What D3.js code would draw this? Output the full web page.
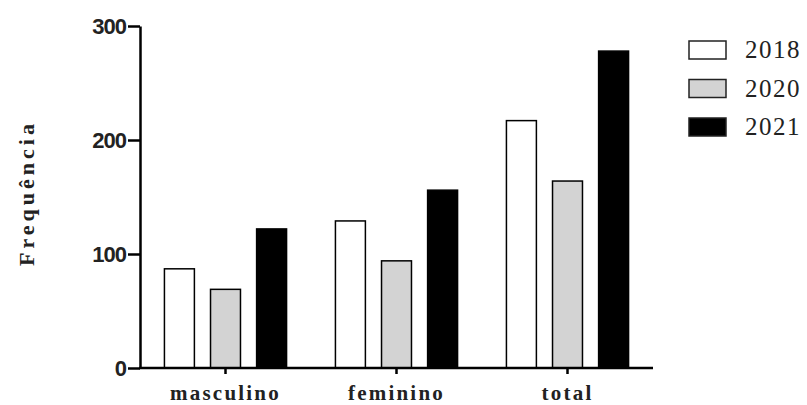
<!DOCTYPE html>
<html>
<head>
<meta charset="utf-8">
<script src="https://cdn.jsdelivr.net/npm/d3@7"></script>
<style>
  body { margin: 0; background: #fff; }
</style>
</head>
<body>
<div id="chart"></div>
<script>
// Grouped bar chart: frequencia por sexo e ano

const categories = ["masculino", "feminino", "total"];
const years = ["2018", "2020", "2021"];
const values2018 = [87, 129, 217];
const values2020 = [69, 94, 164];
const values2021 = [122, 156, 278];
const yTicks = [0, 100, 200, 300];

const seriesValues = [values2018, values2020, values2021];
const fills = ["#ffffff", "#d3d3d3", "#000000"];

let width = 807,
    height = 405,
    plotLeft = 140,
    plotRight = 653,
    plotTop = 26,
    plotBottom = 368;

let svg = d3.select("#chart").append("svg")
    .attr("width", width)
    .attr("height", height);

// Scales
// ---------------------------------------------------------

let x0 = d3.scaleBand()
    .domain(categories)
    .range([plotLeft, plotRight])
    .paddingInner(0)
    .paddingOuter(0);

let x1 = d3.scaleBand()
    .domain(years)
    .range([0, x0.bandwidth()])
    .paddingInner(0.35)
    .paddingOuter(0.53);

let y = d3.scaleLinear()
    .domain([0, 300])
    .range([plotBottom, plotTop]);

// Bars
// ---------------------------------------------------------

let rows = [];
categories.forEach((c, i) => {
    years.forEach((yr, j) => {
        rows.push({cat: c, year: yr, value: seriesValues[j][i], fill: fills[j]});
    });
});

svg.append("g").selectAll("rect")
    .data(rows)
    .enter()
    .append("rect")
        .attr("x", d => x0(d.cat) + x1(d.year))
        .attr("y", d => y(d.value))
        .attr("width", x1.bandwidth())
        .attr("height", d => y(0) - y(d.value))
        .attr("fill", d => d.fill)
        .attr("stroke", "#000")
        .attr("stroke-width", 1.5);

// Axes
// ---------------------------------------------------------

let yAxis = svg.append("g")
    .attr("transform", `translate(${plotLeft},0)`)
    .call(d3.axisLeft(y).tickValues(yTicks).tickSize(12).tickSizeOuter(0).tickPadding(2));

yAxis.select(".domain").attr("stroke-width", 2.5);
yAxis.selectAll(".tick line").attr("stroke-width", 2.5);
yAxis.selectAll("text")
    .attr("font-family", "Arial, 'Liberation Sans', sans-serif")
    .attr("font-weight", "bold")
    .attr("font-size", 22)
    .attr("letter-spacing", "-1px")
    .attr("fill", "#222");

let xAxis = svg.append("g")
    .attr("transform", `translate(0,${plotBottom})`)
    .call(d3.axisBottom(x0).tickSize(6).tickSizeOuter(0).tickPadding(11));

xAxis.select(".domain").attr("stroke-width", 2.5)
    .attr("d", `M${plotLeft - 1},0H${plotRight}`);
xAxis.selectAll(".tick line").attr("stroke-width", 2.5);
xAxis.selectAll("text")
    .attr("font-family", "'Liberation Serif', 'Times New Roman', serif")
    .attr("font-weight", "bold")
    .attr("font-size", 21)
    .attr("letter-spacing", "2.2px")
    .attr("fill", "#222");

// Axis title
svg.append("text")
    .attr("transform", "translate(34,193) rotate(-90)")
    .attr("text-anchor", "middle")
    .attr("font-family", "'Liberation Serif', 'Times New Roman', serif")
    .attr("font-weight", "bold")
    .attr("font-size", 22)
    .attr("letter-spacing", "4px")
    .attr("fill", "#222")
    .text("Frequência");

// Legend
// ---------------------------------------------------------

let legend = svg.append("g")
    .attr("transform", "translate(689,41)");

legend.selectAll("rect")
    .data(years)
    .enter()
    .append("rect")
        .attr("x", 0)
        .attr("y", (d, i) => i * 38.5)
        .attr("width", 37)
        .attr("height", 18)
        .attr("fill", (d, i) => fills[i])
        .attr("stroke", "#222")
        .attr("stroke-width", 1.5);

legend.selectAll("text")
    .data(years)
    .enter()
    .append("text")
        .attr("x", 56)
        .attr("y", (d, i) => i * 38.5 + 17)
        .attr("font-family", "'Liberation Serif', 'Times New Roman', serif")
        .attr("font-size", 25)
        .attr("letter-spacing", "1.5px")
        .attr("fill", "#222")
        .text(d => d);
</script>
</body>
</html>
